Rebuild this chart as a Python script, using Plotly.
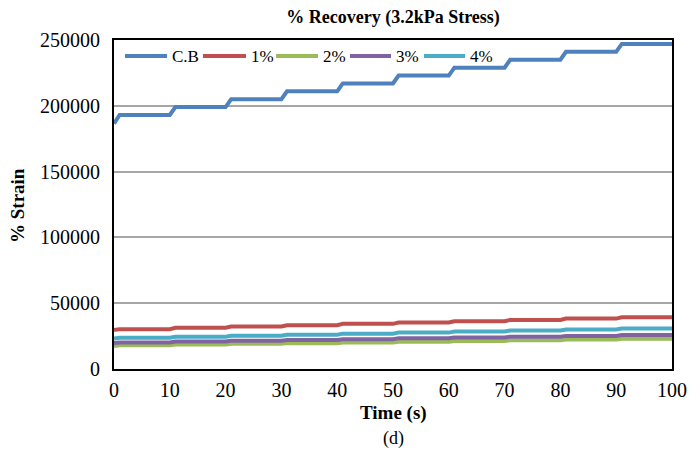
import plotly.graph_objects as go

times = [0, 1, 10, 11, 20, 21, 30, 31, 40, 41, 50, 51, 60, 61, 70, 71, 80, 81, 90, 91, 100]

cb = [186500, 193000, 193000, 199000, 199000, 205000, 205000, 211000, 211000, 217000, 217000,
      223000, 223000, 229000, 229000, 235000, 235000, 241000, 241000, 247000, 247000]
p1 = [29600, 30300, 30300, 31300, 31300, 32300, 32300, 33300, 33300, 34300, 34300,
      35300, 35300, 36300, 36300, 37300, 37300, 38300, 38300, 39300, 39300]
p2 = [17500, 18000, 18000, 18550, 18550, 19100, 19100, 19650, 19650, 20200, 20200,
      20750, 20750, 21300, 21300, 21850, 21850, 22400, 22400, 22950, 22950]
p3 = [19700, 20200, 20200, 20820, 20820, 21440, 21440, 22060, 22060, 22680, 22680,
      23300, 23300, 23920, 23920, 24540, 24540, 25160, 25160, 25780, 25780]
p4 = [23100, 23700, 23700, 24490, 24490, 25280, 25280, 26070, 26070, 26860, 26860,
      27650, 27650, 28440, 28440, 29230, 29230, 30020, 30020, 30810, 30810]

names = ["C.B", "1%", "2%", "3%", "4%"]
series = [cb, p1, p2, p3, p4]
colors = ["#4F81BD", "#C0504D", "#9BBB59", "#8064A2", "#4BACC6"]

W, H = 689, 452
L, R, T, B = 114, 17, 40, 83
PW, PH = W - L - R, H - T - B


def px_x(px):
    return (px - L) / PW


def px_y(py):
    return (H - B - py) / PH


FONT = "Liberation Serif"

fig = go.Figure()
for n, s, c in zip(names, series, colors):
    fig.add_trace(go.Scatter(x=times, y=s, mode="lines", name=n,
                             line=dict(color=c, width=4), showlegend=False))

fig.update_layout(
    template="none",
    width=W, height=H,
    margin=dict(l=L, r=R, t=T, b=B, pad=0),
    paper_bgcolor="white", plot_bgcolor="white",
    font=dict(family=FONT, size=20, color="black"),
    title=dict(text="<b>% Recovery (3.2kPa Stress)</b>", x=393 / W, xanchor="center",
               xref="container", y=1 - 17 / H, yref="container", yanchor="middle",
               font=dict(size=18, family=FONT, color="black")),
    showlegend=False,
    xaxis=dict(range=[0, 100], tickvals=list(range(0, 101, 10)),
               showgrid=False, zeroline=False, automargin=False,
               showline=True, linecolor="black", linewidth=2, mirror=True,
               ticks="", ticklabelstandoff=2,
               tickfont=dict(size=20, family=FONT, color="black")),
    yaxis=dict(range=[0, 250000], tickvals=list(range(0, 250001, 50000)),
               tickformat="d", automargin=False,
               showgrid=True, gridcolor="#A6A6A6", gridwidth=1.5, zeroline=False,
               showline=True, linecolor="black", linewidth=2, mirror=True,
               ticks="", ticklabelstandoff=8,
               tickfont=dict(size=20, family=FONT, color="black")),
)

# axis titles and caption
fig.add_annotation(text="<b>Time (s)</b>", xref="paper", yref="paper",
                   x=px_x(393), y=px_y(413), xanchor="center", yanchor="middle",
                   showarrow=False, font=dict(size=19, family=FONT, color="black"))
fig.add_annotation(text="<b>% Strain</b>", xref="paper", yref="paper",
                   x=px_x(17), y=px_y(206), xanchor="center", yanchor="middle",
                   textangle=-90, showarrow=False,
                   font=dict(size=19, family=FONT, color="black"))
fig.add_annotation(text="(d)", xref="paper", yref="paper",
                   x=px_x(393), y=px_y(438), xanchor="center", yanchor="middle",
                   showarrow=False, font=dict(size=18, family=FONT, color="black"))

# legend drawn manually (line sample + label)
leg_pos = [(125, 167), (203, 246), (276, 318), (350, 391), (424, 465)]
leg_y = 56
for (x0, x1), n, c in zip(leg_pos, names, colors):
    fig.add_shape(type="line", xref="paper", yref="paper",
                  x0=px_x(x0), x1=px_x(x1), y0=px_y(leg_y), y1=px_y(leg_y),
                  line=dict(color=c, width=4))
    fig.add_annotation(text=n, xref="paper", yref="paper",
                       x=px_x(x1 + 3), y=px_y(leg_y), xanchor="left", yanchor="middle",
                       showarrow=False, font=dict(size=17, family=FONT, color="black"))

fig.write_html("out.html")
